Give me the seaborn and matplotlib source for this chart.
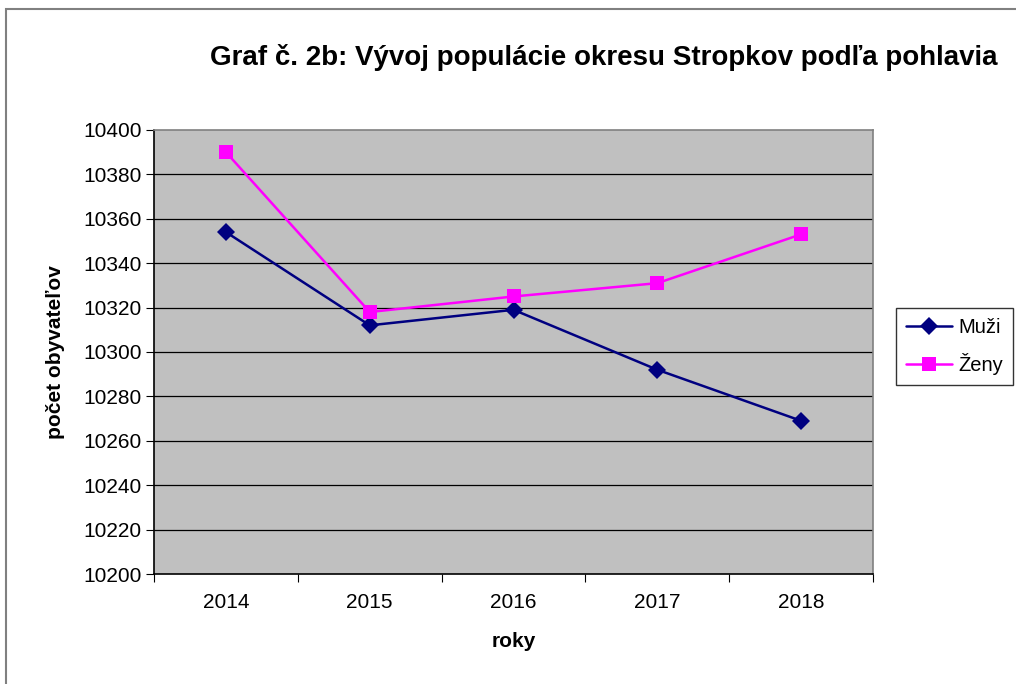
import pandas as pd
import seaborn as sns
import matplotlib.pyplot as plt
from matplotlib.patches import Rectangle

# Data
roky = [2014, 2015, 2016, 2017, 2018]
muzi = [10354, 10312, 10319, 10292, 10269]
zeny = [10390, 10318, 10325, 10331, 10353]

df = pd.DataFrame({
    'rok': [str(r) for r in roky] * 2,
    'pocet': muzi + zeny,
    'pohlavie': ['Muži'] * len(roky) + ['Ženy'] * len(roky),
})
df['pos'] = list(range(len(roky))) * 2

sns.set_style('white', {'text.color': 'black', 'axes.labelcolor': 'black',
                        'xtick.color': 'black', 'ytick.color': 'black'})
plt.rcParams['font.family'] = ['Liberation Sans', 'DejaVu Sans']

fig = plt.figure(figsize=(10.16, 6.84), dpi=100, facecolor='white')
ax = fig.add_axes([0.1516, 0.1608, 0.7077, 0.6492])
ax.set_facecolor('#c0c0c0')

# outer chart frame (right and bottom edges fall outside the image)
fig.patches.append(Rectangle((6 / 1016, -0.1), 1.2, 1.1 - 9 / 684, transform=fig.transFigure,
                             fill=False, edgecolor='#808080', linewidth=1.5))

sns.lineplot(data=df, x='pos', y='pocet', hue='pohlavie', style='pohlavie',
             palette={'Muži': '#000080', 'Ženy': '#ff00ff'},
             markers={'Muži': 'D', 'Ženy': 's'}, dashes=False,
             markersize=9.5, linewidth=1.8, markeredgewidth=0, ax=ax)

ax.set_ylim(10200, 10400)
ax.set_yticks(range(10200, 10401, 20))
for y in range(10220, 10400, 20):
    ax.axhline(y, color='black', linewidth=0.9, zorder=0.5)

ax.set_xlim(-0.5, len(roky) - 0.5)
ax.set_xticks([i - 0.5 for i in range(len(roky) + 1)], minor=False)
ax.set_xticklabels([])
ax.set_xticks(range(len(roky)), minor=True)
ax.set_xticklabels([str(r) for r in roky], minor=True)
ax.tick_params(axis='x', which='minor', length=0, labelsize=15, pad=14)
ax.tick_params(axis='x', which='major', length=6, direction='out', color='black', bottom=True)
ax.tick_params(axis='y', labelsize=15, length=6, direction='out', left=True, color='black', pad=3)

for side in ['left', 'bottom', 'right', 'top']:
    ax.spines[side].set_color('#808080' if side in ('right', 'top') else 'black')
    ax.spines[side].set_linewidth(1.2)

ax.set_xlabel('roky', fontsize=15, fontweight='bold', labelpad=14)
ax.set_ylabel('počet obyvateľov', fontsize=15, fontweight='bold', labelpad=13)

fig.text(0.594, 0.916, 'Graf č. 2b: Vývoj populácie okresu Stropkov podľa pohlavia',
         ha='center', va='center', fontsize=20, fontweight='bold')

leg = ax.legend(loc='upper left', bbox_to_anchor=(896 / 1016, 1 - 308 / 684),
                bbox_transform=fig.transFigure, borderaxespad=0, fontsize=14.5,
                frameon=True, fancybox=False, edgecolor='black', handlelength=2.3,
                borderpad=0.5, labelspacing=0.8, handletextpad=0.3)
leg.get_frame().set_linewidth(1.0)

fig.savefig('out.png', dpi=100, facecolor='white')
